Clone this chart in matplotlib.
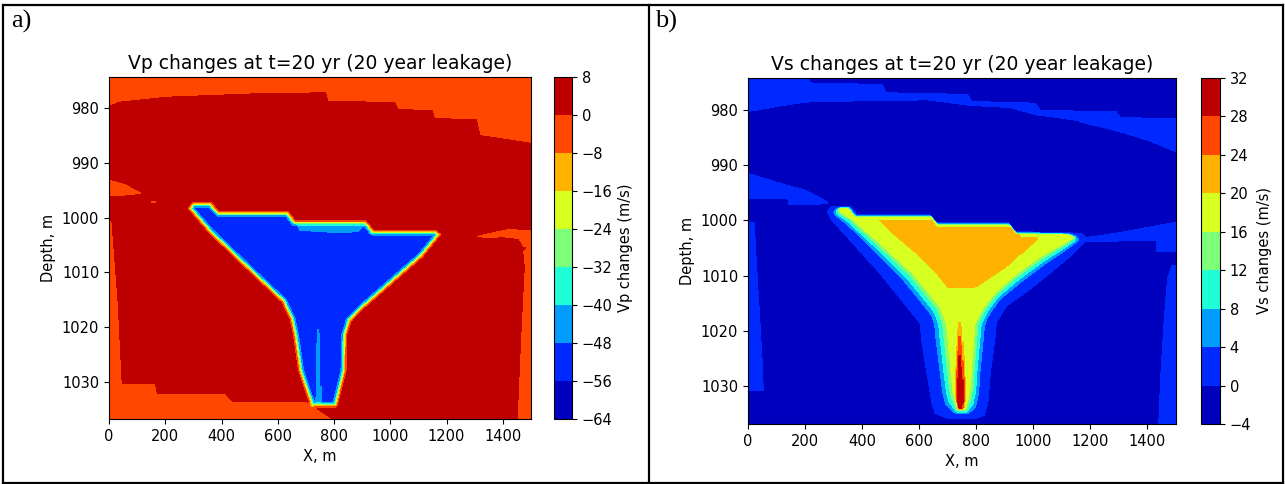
import numpy as np
import matplotlib
matplotlib.use("Agg")
import matplotlib.pyplot as plt
from matplotlib.path import Path
from matplotlib.lines import Line2D

# ---------------- values ----------------
x_range = [0.0, 1500.0]
depth_range = [974.3, 1036.8]
x_ticks = [0, 200, 400, 600, 800, 1000, 1200, 1400]
depth_ticks = [980, 990, 1000, 1010, 1020, 1030]
vp_levels = [-64, -56, -48, -40, -32, -24, -16, -8, 0, 8]
vs_levels = [-4, 0, 4, 8, 12, 16, 20, 24, 28, 32]

# ---- Vp panel ----
vp_background = -4.0          # orange zone (-8..0)
vp_layer = 4.0                # dark red zone (0..8)
vp_plume = -52.0              # inside CO2 plume
vp_plume_soft = -44.0         # lighter patches inside plume

vp_layer_x = [-10, 40, 205, 407, 560, 768, 776, 1015, 1025, 1148, 1156, 1305, 1318, 1510,
              1510, 1470, 1476, 1465, 1450, 815, 700, 440, 415, 172, 165, 47, 32, 10, -10]
vp_layer_d = [979.8, 978.9, 978.0, 977.6, 977.3, 977.2, 978.7, 979.0, 980.2, 980.5, 981.9, 982.1, 985.0, 986.5,
              1004.0, 1006.0, 1009.0, 1020.0, 1037.5, 1037.5, 1033.6, 1033.6, 1032.1, 1032.1, 1030.3, 1030.3, 1015.0, 1000.5, 1000.5]

vp_left_tongue_x = [-10, 60, 125, 80, -10]
vp_left_tongue_d = [992.8, 993.8, 995.6, 996.0, 996.2]
vp_blob_x = [146, 170, 168, 148]
vp_blob_d = [996.8, 996.9, 997.4, 997.4]
vp_right_tongue_x = [1294, 1360, 1417, 1510, 1510, 1497, 1470, 1454, 1400, 1330]
vp_right_tongue_d = [1003.4, 1002.6, 1002.0, 1002.2, 1005.0, 1005.4, 1005.4, 1004.0, 1003.7, 1003.8]

vp_plume_x = [288, 300, 360, 390, 635, 660, 912, 938, 1160, 1172,
              1110, 1010, 905, 855, 838, 836, 806, 722, 680, 662, 650, 620, 500, 360]
vp_plume_d = [998.3, 997.5, 997.5, 999.2, 999.2, 1000.9, 1000.9, 1002.6, 1002.6, 1003.1,
              1007.0, 1011.5, 1016.2, 1018.8, 1021.5, 1028.0, 1034.3, 1034.3, 1028.0, 1021.5, 1018.6, 1015.3, 1009.5, 1002.6]
vp_patch_x = [668, 917, 881, 798, 680]
vp_patch_d = [1001.0, 1001.0, 1002.6, 1002.7, 1002.3]
vp_stripe_x = [742, 748, 753, 737]
vp_stripe_d = [1020.5, 1020.5, 1034.3, 1034.3]
rim_dist = [-4.0, -2.0, 0.0, 1.5, 3.0, 4.5]     # px from plume edge
rim_frac = [0.0, 0.12, 0.45, 0.80, 0.92, 1.0]

# ---- Vs panel ----
vs_background = -2.0
vs_band = 2.0
vs_top_band_x = [-10, 215, 215, 470, 485, 770, 785, 1010, 1025, 1290, 1305, 1510,
                 1510, 1400, 1280, 1150, 1010, 920, 780, 630, 450, 200, 100, -10]
vs_top_band_d = [974.0, 974.0, 975.2, 975.5, 977.0, 977.3, 978.6, 978.9, 980.2, 980.5, 981.5, 981.8,
                 987.8, 985.5, 983.6, 982.0, 981.0, 979.7, 979.3, 978.3, 978.4, 978.7, 979.5, 980.5]
vs_left_tongue_x = [-10, 130, 200, 285, 230, 140, 140, -10]
vs_left_tongue_d = [991.4, 993.6, 994.6, 996.9, 997.3, 997.3, 996.1, 996.1]
vs_left_strip_x = [-10, 22, 30, 42, 52, 54, -10]
vs_left_strip_d = [1000.2, 1000.3, 1008.0, 1018.0, 1027.0, 1030.7, 1030.7]
vs_right_strip_x = [1510, 1485, 1470, 1458, 1447, 1438, 1510]
vs_right_strip_d = [1008.0, 1008.3, 1010.5, 1018.0, 1027.0, 1037.5, 1037.5]
vs_right_tongue_x = [1160, 1186, 1315, 1510, 1510, 1432, 1432, 1315]
vs_right_tongue_d = [1003.9, 1003.1, 1002.1, 1000.2, 1005.7, 1005.7, 1003.7, 1003.7]

vs_halo_x = [276, 296, 360, 382, 636, 660, 912, 936, 1170, 1192,
             1128, 1058, 980, 906, 871, 865, 850, 842, 830, 800, 700, 655, 644, 626, 608, 603, 556, 462, 357, 290]
vs_halo_d = [998.4, 997.4, 997.4, 998.9, 998.9, 1000.4, 1000.4, 1002.0, 1002.3, 1003.3,
             1006.6, 1009.6, 1012.8, 1015.6, 1018.6, 1021.6, 1027.5, 1033.0, 1035.3, 1035.8, 1035.8, 1035.0, 1033.0, 1027.5, 1021.6, 1018.6, 1015.6, 1009.6, 1003.6, 999.8]
vs_yellow_x = [318, 325, 350, 372, 640, 665, 915, 940, 1120, 1140,
               1023, 941, 870, 825, 795, 790, 782, 778, 760, 738, 719, 712, 702, 696, 673, 579, 451, 360]
vs_yellow_d = [998.3, 997.9, 997.9, 999.4, 999.4, 1000.9, 1000.9, 1002.5, 1002.6, 1003.2,
               1006.6, 1009.6, 1012.8, 1015.6, 1018.6, 1021.6, 1027.0, 1030.6, 1034.2, 1034.2, 1030.6, 1027.0, 1021.6, 1018.6, 1015.6, 1009.6, 1003.6, 999.6]
halo_t = [0.0, 0.55, 0.70, 0.85, 1.0]
halo_v = [0.0, 4.0, 8.0, 12.0, 16.0]
vs_yellow_val = 18.0
vs_orange_x = [457, 644, 660, 941, 953, 1017, 906, 801, 790, 702, 661, 591, 498]
vs_orange_d = [999.9, 999.9, 1001.2, 1001.2, 1003.0, 1003.2, 1008.4, 1012.0, 1012.2, 1012.2, 1009.6, 1006.0, 1002.0]
vs_orange_val = 22.0
vs_stem1_x = [739, 747, 756, 762, 754, 736, 728, 731]
vs_stem1_d = [1018.5, 1018.5, 1025.0, 1032.0, 1034.3, 1034.3, 1032.0, 1025.0]
vs_stem1_val = 22.0
vs_stem2_x = [740, 746, 754, 759, 752, 738, 731, 734]
vs_stem2_d = [1021.0, 1021.0, 1027.0, 1032.0, 1034.0, 1034.0, 1032.0, 1027.0]
vs_stem2_val = 26.0
vs_stem3_x = [741, 745, 752, 755, 748, 740, 734, 737]
vs_stem3_d = [1024.5, 1024.5, 1029.0, 1032.5, 1034.0, 1034.0, 1032.5, 1029.0]
vs_stem3_val = 30.0

# ---------------- grid helpers ----------------
nx, ny = 422, 343
X = np.linspace(x_range[0], x_range[1], nx)
D = np.linspace(depth_range[0], depth_range[1], ny)
XX, DD = np.meshgrid(X, D)
sx = (nx - 1) / (x_range[1] - x_range[0])
sy = (ny - 1) / (depth_range[1] - depth_range[0])
PX, PY = XX.ravel() * sx, DD.ravel() * sy


def inside(px_, pd_):
    verts = np.column_stack([np.asarray(px_) * sx, np.asarray(pd_) * sy])
    return Path(verts).contains_points(np.column_stack([PX, PY])).reshape(XX.shape)


def signed_dist(px_, pd_):
    vx = np.asarray(px_, float) * sx
    vy = np.asarray(pd_, float) * sy
    d = np.full(PX.shape, np.inf)
    n = len(vx)
    for i in range(n):
        ax_, ay_ = vx[i], vy[i]
        bx_, by_ = vx[(i + 1) % n], vy[(i + 1) % n]
        dx, dy = bx_ - ax_, by_ - ay_
        L = dx * dx + dy * dy
        t = np.clip(((PX - ax_) * dx + (PY - ay_) * dy) / L, 0, 1)
        d = np.minimum(d, np.hypot(PX - ax_ - t * dx, PY - ay_ - t * dy))
    d = d.reshape(XX.shape)
    return np.where(inside(px_, pd_), d, -d)


# ---- Vp field ----
vp_bg = np.where(inside(vp_layer_x, vp_layer_d), vp_layer, vp_background)
for tx, td in [(vp_left_tongue_x, vp_left_tongue_d), (vp_blob_x, vp_blob_d),
               (vp_right_tongue_x, vp_right_tongue_d)]:
    vp_bg = np.where(inside(tx, td), vp_background, vp_bg)
vp_in = np.full(XX.shape, vp_plume)
for tx, td in [(vp_patch_x, vp_patch_d), (vp_stripe_x, vp_stripe_d)]:
    vp_in = np.where(inside(tx, td), vp_plume_soft, vp_in)
frac = np.interp(signed_dist(vp_plume_x, vp_plume_d), rim_dist, rim_frac)
vp = vp_bg + (vp_in - vp_bg) * frac

# ---- Vs field ----
vs_bg = np.full(XX.shape, vs_background)
for tx, td in [(vs_top_band_x, vs_top_band_d), (vs_left_tongue_x, vs_left_tongue_d),
               (vs_left_strip_x, vs_left_strip_d), (vs_right_strip_x, vs_right_strip_d),
               (vs_right_tongue_x, vs_right_tongue_d)]:
    vs_bg = np.where(inside(tx, td), vs_band, vs_bg)
dH = signed_dist(vs_halo_x, vs_halo_d)
dY = signed_dist(vs_yellow_x, vs_yellow_d)
t = np.clip(dH / np.maximum(dH - dY, 1e-6), 0, 1)
halo = np.interp(t, halo_t, halo_v)
core = np.full(XX.shape, vs_yellow_val)
for tx, td, val in [(vs_orange_x, vs_orange_d, vs_orange_val),
                    (vs_stem1_x, vs_stem1_d, vs_stem1_val),
                    (vs_stem2_x, vs_stem2_d, vs_stem2_val),
                    (vs_stem3_x, vs_stem3_d, vs_stem3_val)]:
    core = np.where(inside(tx, td), val, core)
vs = np.where(dH <= 0, vs_bg, np.where(dY >= 0, core, np.maximum(vs_bg, halo)))

# ---------------- figure ----------------
W, H = 1285, 484
fig = plt.figure(figsize=(W / 100, H / 100), dpi=100)


def rect(l, t, r, b):
    return [l / W, 1 - b / H, (r - l) / W, (b - t) / H]


panels = [
    dict(ax=rect(109, 77, 531, 419), cax=rect(554, 77, 572, 419), field=vp, levels=vp_levels,
         title="Vp changes at t=20 yr (20 year leakage)", clabel="Vp changes (m/s)"),
    dict(ax=rect(748, 78, 1176, 424), cax=rect(1201, 78, 1220, 424), field=vs, levels=vs_levels,
         title="Vs changes at t=20 yr (20 year leakage)", clabel="Vs changes (m/s)"),
]
fs_tick = 10.5
for p in panels:
    ax = fig.add_axes(p["ax"])
    cs = ax.contourf(X, D, p["field"], levels=p["levels"], cmap="jet")
    ax.set_xlim(x_range)
    ax.set_ylim(depth_range[1], depth_range[0])
    ax.set_xticks(x_ticks)
    ax.set_yticks(depth_ticks)
    ax.tick_params(labelsize=fs_tick)
    ax.set_xlabel("X, m", fontsize=fs_tick)
    ax.set_ylabel("Depth, m", fontsize=fs_tick)
    ax.set_title(p["title"], fontsize=13.5, pad=6)
    cax = fig.add_axes(p["cax"])
    cb = fig.colorbar(cs, cax=cax, ticks=p["levels"])
    cb.ax.tick_params(labelsize=fs_tick)
    cb.set_label(p["clabel"], fontsize=fs_tick)

# table-like frame
lw = 1.6
for (x0, y0, x1, y1) in [(3, 4.5, 1283, 4.5), (3, 482.5, 1283, 482.5), (3, 4.5, 3, 482.5),
                         (648.5, 4.5, 648.5, 482.5), (1283, 4.5, 1283, 482.5)]:
    fig.add_artist(Line2D([x0 / W, x1 / W], [1 - y0 / H, 1 - y1 / H], color="black", lw=lw,
                          transform=fig.transFigure))
fig.text(11 / W, 1 - 10 / H, "a)", fontsize=19, family="Liberation Serif", va="top", ha="left")
fig.text(655 / W, 1 - 10 / H, "b)", fontsize=19, family="Liberation Serif", va="top", ha="left")

fig.savefig("out.png", dpi=100)
